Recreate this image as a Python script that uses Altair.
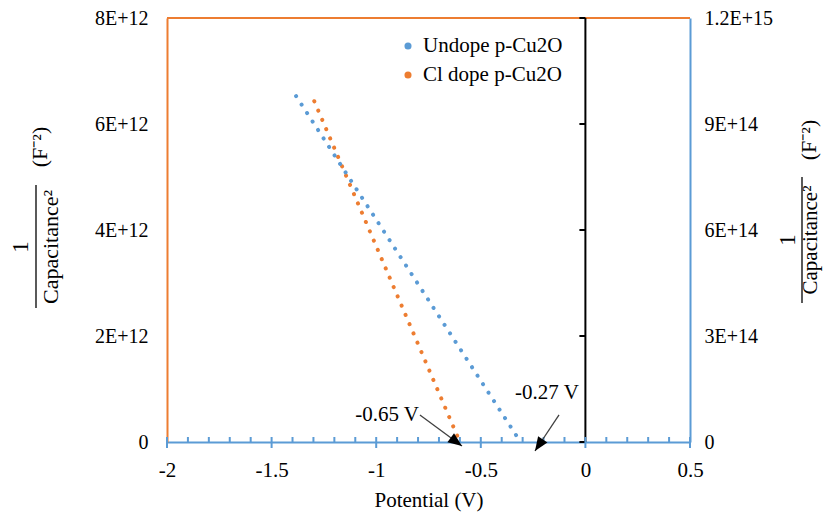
import math
import altair as alt
import pandas as pd

# ---------------- data ----------------
series_names = ["Undope p-Cu2O", "Cl dope p-Cu2O"]
series_colors = ["#5B9BD5", "#ED7D31"]

undope_potential = [-1.383, -0.31]      # V
undope_inv_c2 = [9.79e14, 0.0]          # right axis (F^-2)
cldope_potential = [-1.296, -0.60]      # V
cldope_inv_c2 = [6.43e12, 0.0]          # left axis (F^-2)

x_major = [-2, -1.5, -1, -0.5, 0, 0.5]
x_minor = [-1.9, -1.8, -1.7, -1.6, -1.4, -1.3, -1.2, -1.1, -0.9, -0.8, -0.7,
           -0.6, -0.4, -0.3, -0.2, -0.1, 0.1, 0.2, 0.3, 0.4]
left_ticks = [0, 2e12, 4e12, 6e12, 8e12]
right_ticks = [0, 3e14, 6e14, 9e14, 1.2e15]

ann_labels = ["-0.65 V", "-0.27 V"]
ann_text_x = [-0.948, -0.184]
ann_text_y = [0.51e12, 0.92e12]
ann_tail_x = [-0.791, -0.126]
ann_tail_y = [0.51e12, 0.51e12]
ann_tip_x = [-0.59, -0.241]
ann_tip_y = [-0.075e12, -0.17e12]

# ---------------- layout ----------------
W, H = 523, 424
XMIN, XMAX = -2, 0.5
YL = 8e12
YR = 1.2e15
FONT = "Liberation Serif, Times New Roman, serif"
BLUE, ORANGE = series_colors

xscale = alt.Scale(domain=[XMIN, XMAX], nice=False, zero=False)
lscale = alt.Scale(domain=[0, YL], nice=False, zero=False)
rscale = alt.Scale(domain=[0, YR], nice=False, zero=False)

xaxis = alt.Axis(values=x_major, ticks=False, grid=False, domainColor=BLUE,
                 domainWidth=2, labelFont=FONT, labelFontSize=21,
                 labelColor="black", labelPadding=17, labelFlush=False,
                 labelExpr="'' + datum.value",
                 title="Potential (V)", titleFont=FONT, titleFontSize=21,
                 titleFontWeight="normal", titleColor="black", titlePadding=9)
laxis = alt.Axis(values=left_ticks, ticks=False, grid=False, domainColor=ORANGE,
                 domainWidth=2, labelFont=FONT, labelFontSize=20,
                 labelColor="black", labelPadding=19, title=None,
                 labelExpr="datum.value == 0 ? '0' : format(datum.value/1e12, 'd') + 'E+12'")
raxis = alt.Axis(values=right_ticks, orient="right", ticks=False, grid=False,
                 domainColor=BLUE, domainWidth=2, labelFont=FONT, labelFontSize=20,
                 labelColor="black", labelPadding=14, title=None,
                 labelExpr="datum.value == 0 ? '0' : (datum.value >= 1e15 ? format(datum.value/1e15, '.1f') + 'E+15' : format(datum.value/1e14, 'd') + 'E+14')")

def X(field):
    return alt.X(field, type="quantitative", scale=xscale, axis=xaxis)

def YLn(field):
    return alt.Y(field, type="quantitative", scale=lscale, axis=None)

dot = dict(strokeWidth=4, strokeDash=[0.1, 10], strokeCap="round")

cl_df = pd.DataFrame({"V": cldope_potential, "C": cldope_inv_c2})
un_df = pd.DataFrame({"V": undope_potential, "C": undope_inv_c2})

cl_line = alt.Chart(cl_df).mark_line(color=ORANGE, **dot).encode(
    x=X("V"), y=alt.Y("C", type="quantitative", scale=lscale, axis=laxis))
un_line = alt.Chart(un_df).mark_line(color=BLUE, **dot).encode(
    x=X("V"), y=alt.Y("C", type="quantitative", scale=rscale, axis=raxis))

# frame: top orange border
top_df = pd.DataFrame({"x1": [XMIN], "x2": [XMAX], "y": [YL]})
top_rule = alt.Chart(top_df).mark_rule(color=ORANGE, strokeWidth=2).encode(
    x=X("x1"), x2="x2", y=YLn("y"))

# black vertical axis at 0
zero_df = pd.DataFrame({"x": [0], "y1": [0], "y2": [YL]})
zero_rule = alt.Chart(zero_df).mark_rule(color="black", strokeWidth=2).encode(
    x=X("x"), y=YLn("y1"), y2="y2")
zt_df = pd.DataFrame({"x": [0] * len(left_ticks), "y": left_ticks})
zero_ticks = alt.Chart(zt_df).mark_rule(color="black", strokeWidth=2, x2Offset=-6).encode(
    x=X("x"), x2="x", y=YLn("y"))

# bottom axis ticks (major cross, minor inside)
maj_df = pd.DataFrame({"x": x_major, "y": [0] * len(x_major)})
maj_ticks = alt.Chart(maj_df).mark_rule(color=BLUE, strokeWidth=2, yOffset=6, y2Offset=-5).encode(
    x=X("x"), y=YLn("y"), y2="y")
min_df = pd.DataFrame({"x": x_minor, "y": [0] * len(x_minor)})
min_ticks = alt.Chart(min_df).mark_rule(color=BLUE, strokeWidth=2, y2Offset=-5).encode(
    x=X("x"), y=YLn("y"), y2="y")

# annotations
pxx = W / (XMAX - XMIN)
pxy = H / YL
angles = []
for tx, ty, hx, hy in zip(ann_tail_x, ann_tail_y, ann_tip_x, ann_tip_y):
    dx = (hx - tx) * pxx
    dy = -(hy - ty) * pxy
    angles.append(math.degrees(math.atan2(dx, -dy)) % 360)
ann_df = pd.DataFrame({"label": ann_labels, "tx": ann_text_x, "ty": ann_text_y,
                       "ax": ann_tail_x, "ay": ann_tail_y,
                       "hx": ann_tip_x, "hy": ann_tip_y, "ang": angles})
ann_text = alt.Chart(ann_df).mark_text(font=FONT, fontSize=21, color="black").encode(
    x=X("tx"), y=YLn("ty"), text="label:N")
ann_line = alt.Chart(ann_df).mark_rule(color="#404040", strokeWidth=1.3).encode(
    x=X("ax"), x2="hx", y=YLn("ay"), y2="hy")
ann_head = alt.Chart(ann_df).mark_point(
    shape="M0,0L-0.8,2L0.8,2Z", filled=True, color="black", size=196, opacity=1
).encode(x=X("hx"), y=YLn("hy"), angle=alt.Angle("ang:Q", scale=None))

# legend
leg_df = pd.DataFrame({"name": series_names, "row": [0, 1]})
leg_color = alt.Color("name:N", scale=alt.Scale(domain=series_names, range=series_colors), legend=None)
leg_y = alt.Y("row:Q", scale=alt.Scale(domain=[0, 1], range=[28, 57]), axis=None)
leg_pts = alt.Chart(leg_df).mark_point(filled=True, size=50, opacity=1).encode(
    x=alt.value(241), y=leg_y, color=leg_color)
leg_txt = alt.Chart(leg_df).mark_text(align="left", baseline="middle", font=FONT,
                                      fontSize=21, color="black", dx=15).encode(
    x=alt.value(241), y=leg_y, text="name:N")

# y-axis titles (fraction 1 / Capacitance^2 (F^-2))
def title_parts(x_one, x_line, x_cap, x_unit, y_mid, y_unit, y_line1, y_line2, cap_size):
    one = alt.Chart(pd.DataFrame({"t": ["1"]})).mark_text(
        font=FONT, fontSize=23, angle=270, baseline="middle", color="black").encode(
        x=alt.value(x_one), y=alt.value(y_mid), text="t:N")
    line = alt.Chart(pd.DataFrame({"t": ["-"]})).mark_rule(color="black", strokeWidth=1.3).encode(
        x=alt.value(x_line), y=alt.value(y_line1), y2=alt.value(y_line2))
    cap = alt.Chart(pd.DataFrame({"t": ["Capacitance²"]})).mark_text(
        font=FONT, fontSize=cap_size, angle=270, baseline="middle", color="black").encode(
        x=alt.value(x_cap), y=alt.value(y_mid), text="t:N")
    unit = alt.Chart(pd.DataFrame({"t": ["(F⁻²)"]})).mark_text(
        font=FONT, fontSize=22, angle=270, baseline="middle", color="black").encode(
        x=alt.value(x_unit), y=alt.value(y_unit), text="t:N")
    return [one, line, cap, unit]

L0, T0 = 167, 18
left_title = title_parts(21 - L0, 36 - L0, 51 - L0, 40 - L0, 247 - T0, 147 - T0, 185 - T0, 308 - T0, 22)
right_title = title_parts(788 - L0, 802 - L0, 811 - L0, 809 - L0, 240 - T0, 140 - T0, 177 - T0, 303 - T0, 21)

chart = alt.layer(
    cl_line, un_line, top_rule, zero_rule, zero_ticks, maj_ticks, min_ticks,
    ann_line, ann_head, ann_text, leg_pts, leg_txt, *left_title, *right_title
).resolve_scale(y="independent").properties(
    width=W, height=H,
    autosize=alt.AutoSizeParams(type="none"),
    padding={"left": 159, "top": 10, "right": 134, "bottom": 71},
    background="white",
).configure_view(stroke=None)

chart.save("out.html", embed_options={"renderer": "svg", "actions": False})
